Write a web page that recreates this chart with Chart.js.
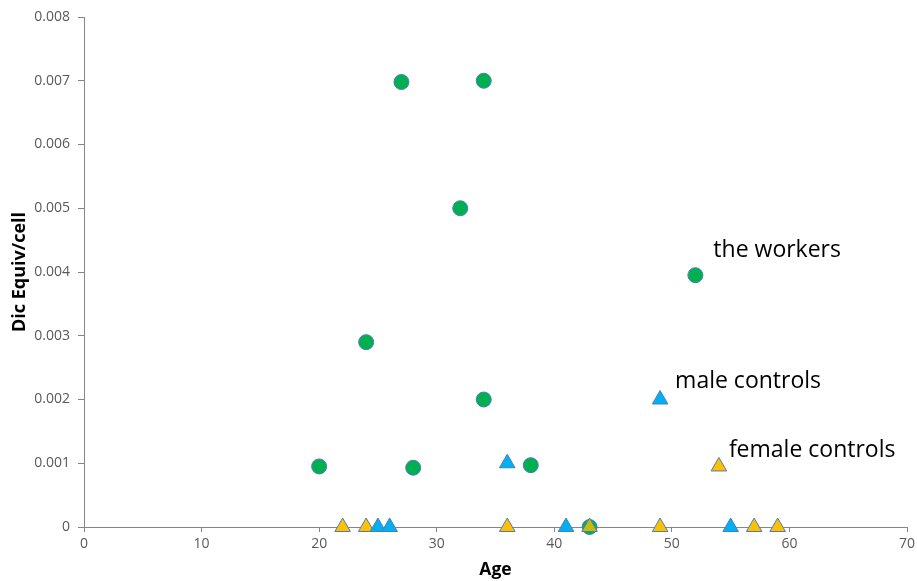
<!DOCTYPE html>
<html>
<head>
<meta charset="utf-8">
<script src="https://cdn.jsdelivr.net/npm/chart.js@4/dist/chart.umd.min.js"></script>
<style>
  html, body { margin: 0; padding: 0; background: #ffffff; }
  #wrap { width: 917px; height: 581px; position: relative; }
</style>
</head>
<body>
<div id="wrap"><canvas id="c" width="917" height="581"></canvas></div>
<script>
// ---- Data ----
const workersAge = [27, 34, 32, 52, 24, 34, 20, 28, 38, 43];
const workersDic = [0.00698, 0.007, 0.005, 0.00395, 0.0029, 0.002, 0.00095, 0.00093, 0.00097, 0];
const maleAge = [49, 36, 25, 26, 41, 55];
const maleDic = [0.002, 0.001, 0, 0, 0, 0];
const femaleAge = [54, 22, 24, 36, 43, 49, 57, 59];
const femaleDic = [0.00095, 0, 0, 0, 0, 0, 0, 0];
const seriesNames = ['the workers', 'male controls', 'female controls'];
const labelledIndex = [3, 0, 0]; // which point of each series carries the series name
const xTicks = [0, 10, 20, 30, 40, 50, 60, 70];
const yTicks = [0, 0.001, 0.002, 0.003, 0.004, 0.005, 0.006, 0.007, 0.008];

const toPts = (xs, ys) => xs.map((x, i) => ({ x: x, y: ys[i] }));

const femaleColors = femaleAge.map(a => a === 43 ? '#C4BC08' : '#FFC000');

const FONT = "'Open Sans', 'Noto Sans', sans-serif";

const seriesLabels = {
  id: 'seriesLabels',
  afterDatasetsDraw(chart) {
    const ctx = chart.ctx;
    const offsets = [[18, -25], [15, -18], [10, -16]];
    ctx.save();
    ctx.font = '23px ' + FONT;
    ctx.fillStyle = '#000000';
    ctx.textAlign = 'left';
    ctx.textBaseline = 'middle';
    chart.data.datasets.forEach((ds, i) => {
      const meta = chart.getDatasetMeta(i);
      const el = meta.data[labelledIndex[i]];
      if (!el) return;
      ctx.fillText(seriesNames[i], el.x + offsets[i][0], el.y + offsets[i][1]);
    });
    ctx.restore();
  }
};

new Chart(document.getElementById('c'), {
  type: 'scatter',
  data: {
    datasets: [
      {
        label: seriesNames[0],
        data: toPts(workersAge, workersDic),
        pointStyle: 'circle',
        pointRadius: 7.5,
        backgroundColor: '#00B050',
        borderColor: '#4A7EBB',
        borderWidth: 1,
        order: 3,
        clip: false
      },
      {
        label: seriesNames[1],
        data: toPts(maleAge, maleDic),
        pointStyle: 'triangle',
        pointRadius: 9,
        backgroundColor: '#00B0F0',
        borderColor: '#4A7EBB',
        borderWidth: 1,
        order: 1,
        clip: false
      },
      {
        label: seriesNames[2],
        data: toPts(femaleAge, femaleDic),
        pointStyle: 'triangle',
        pointRadius: 9,
        backgroundColor: femaleColors,
        borderColor: '#4A7EBB',
        borderWidth: 1,
        order: 2,
        clip: false
      }
    ]
  },
  options: {
    responsive: false,
    animation: false,
    events: [],
    layout: { padding: { left: 0, right: 9, top: 17, bottom: 0 } },
    plugins: {
      legend: { display: false },
      tooltip: { enabled: false }
    },
    scales: {
      x: {
        type: 'linear',
        min: 0, max: 70,
        afterBuildTicks: (s) => { s.ticks = xTicks.map(v => ({ value: v })); },
        afterFit: (s) => { s.height = 54; s.paddingRight = 0; s.paddingLeft = 0; },
        grid: { display: true, drawOnChartArea: false, drawTicks: true, tickLength: 5, color: '#868686' },
        border: { display: true, color: '#868686', width: 1 },
        ticks: { color: '#595959', font: { family: FONT, size: 14 }, padding: 4, maxRotation: 0 },
        title: { display: true, text: 'Age', color: '#000000', font: { family: FONT, size: 17.5, weight: 'bold' }, padding: { top: 0, bottom: 0 } }
      },
      y: {
        type: 'linear',
        min: 0, max: 0.008,
        afterBuildTicks: (s) => { s.ticks = yTicks.map(v => ({ value: v })); },
        afterFit: (s) => { s.width = 84; },
        grid: { display: true, drawOnChartArea: false, drawTicks: true, tickLength: 6, color: '#868686' },
        border: { display: true, color: '#868686', width: 1 },
        ticks: {
          color: '#595959', font: { family: FONT, size: 14 }, padding: 8,
          callback: (v) => v === 0 ? '0' : v.toFixed(3)
        },
        title: { display: true, text: 'Dic Equiv/cell', color: '#000000', font: { family: FONT, size: 18, weight: 'bold' }, padding: { top: 9, bottom: 0 } }
      }
    }
  },
  plugins: [seriesLabels]
});
</script>
</body>
</html>
